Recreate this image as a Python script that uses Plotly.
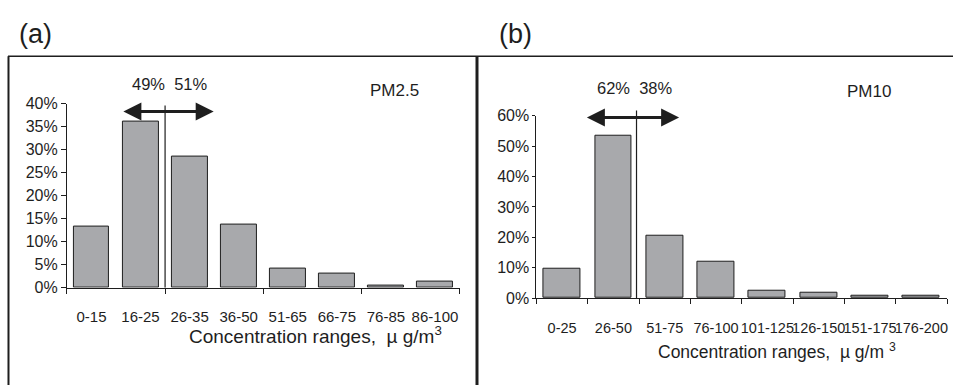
import plotly.graph_objects as go

# ---------------- data ----------------
cats_a = ["0-15", "16-25", "26-35", "36-50", "51-65", "66-75", "76-85", "86-100"]
vals_a = [13.2, 36.0, 28.5, 13.7, 4.15, 3.05, 0.5, 1.33]          # % PM2.5
cats_b = ["0-25", "26-50", "51-75", "76-100", "101-125", "126-150", "151-175", "176-200"]
vals_b = [9.8, 53.3, 20.5, 12.0, 2.4, 1.8, 0.8, 0.8]               # % PM10
split_a = ["49%", "51%"]
split_b = ["62%", "38%"]
yticks_a = [0, 5, 10, 15, 20, 25, 30, 35, 40]
yticks_b = [0, 10, 20, 30, 40, 50, 60]

W, H = 954, 385
FONT = "Arial, Liberation Sans, Helvetica, sans-serif"
INK = "#1e1e1e"
BAR = "#a8a9ac"


def fx(px):
    return px / W


def fy(py):
    return 1 - py / H


idx_a = list(range(len(cats_a)))
idx_b = list(range(len(cats_b)))

fig = go.Figure()
fig.add_trace(go.Bar(x=idx_a, y=[v / 100 for v in vals_a], width=0.73,
                     marker=dict(color=BAR, line=dict(color=INK, width=1)),
                     xaxis="x", yaxis="y", showlegend=False, hoverinfo="skip"))
fig.add_trace(go.Bar(x=idx_b, y=[v / 100 for v in vals_b], width=0.72,
                     marker=dict(color=BAR, line=dict(color=INK, width=1)),
                     xaxis="x2", yaxis="y2", showlegend=False, hoverinfo="skip"))

fig.update_layout(
    width=W, height=H, margin=dict(l=0, r=0, t=0, b=0),
    paper_bgcolor="white", plot_bgcolor="white",
    font=dict(family=FONT, color=INK),
    bargap=0,
    xaxis=dict(domain=[fx(67), fx(460)], range=[-0.5, len(cats_a) - 0.5],
               tickmode="array", tickvals=idx_a, ticktext=cats_a, ticks="", tickangle=0,
               ticklabelstandoff=15, tickfont=dict(family=FONT, size=15, color=INK),
               showline=True, linecolor=INK, linewidth=1, showgrid=False, zeroline=False,
               minor=dict(tickmode="array",
                          tickvals=[i - 0.5 for i in range(0, len(cats_a) + 1, 2)],
                          ticks="outside", ticklen=5, tickcolor=INK, tickwidth=1,
                          showgrid=False),
               anchor="y", fixedrange=True),
    yaxis=dict(domain=[fy(292.7), fy(100)], range=[0, 0.40],
               tickmode="array", tickvals=[t / 100 for t in yticks_a],
               ticktext=[f"{t}%" for t in yticks_a],
               ticks="outside", ticklen=5, tickcolor=INK,
               tickfont=dict(family=FONT, size=16, color=INK),
               showline=True, linecolor=INK, linewidth=1, showgrid=False, zeroline=False,
               anchor="x", fixedrange=True),
    xaxis2=dict(domain=[fx(537), fx(948)], range=[-0.5, len(cats_b) - 0.5],
                tickmode="array", tickvals=idx_b, ticktext=cats_b, ticks="", tickangle=0,
                ticklabelstandoff=17, tickfont=dict(family=FONT, size=14.5, color=INK),
                showline=True, linecolor=INK, linewidth=1, showgrid=False, zeroline=False,
                minor=dict(tickmode="array",
                           tickvals=[i - 0.5 for i in range(0, len(cats_b) + 1)],
                           ticks="outside", ticklen=5, tickcolor=INK, tickwidth=1,
                           showgrid=False),
                anchor="y2", fixedrange=True),
    yaxis2=dict(domain=[fy(303.5), fy(112.7)], range=[0, 0.60],
                tickmode="array", tickvals=[t / 100 for t in yticks_b],
                ticktext=[f"{t}%" for t in yticks_b],
                ticks="outside", ticklen=3, tickcolor=INK,
                tickfont=dict(family=FONT, size=16, color=INK),
                showline=True, linecolor=INK, linewidth=1, showgrid=False, zeroline=False,
                anchor="x2", fixedrange=True),
)

# ---------------- frames ----------------
fig.add_shape(type="line", xref="paper", yref="paper", x0=fx(8), x1=1, y0=fy(50.5), y1=fy(50.5),
              line=dict(color=INK, width=1.5))
fig.add_shape(type="line", xref="paper", yref="paper", x0=fx(8.5), x1=fx(8.5), y0=fy(50.5), y1=-0.05,
              line=dict(color=INK, width=2))
fig.add_shape(type="line", xref="paper", yref="paper", x0=fx(477.5), x1=fx(477.5), y0=fy(50.5), y1=-0.05,
              line=dict(color=INK, width=3))

# ---------------- split lines ----------------
fig.add_shape(type="line", xref="x", yref="y", x0=1.5, x1=1.5, y0=0, y1=0.396,
              line=dict(color=INK, width=1.2))
fig.add_shape(type="line", xref="x2", yref="y2 domain", x0=1.45, x1=1.45, y0=0, y1=0.617 / 0.60,
              line=dict(color=INK, width=1.2))

# double-headed arrows
fig.add_annotation(xref="x", yref="y", axref="x", ayref="y", x=2.49, y=0.383, ax=0.62, ay=0.383,
                   text="", showarrow=True, arrowside="end+start", arrowhead=2, startarrowhead=2,
                   arrowsize=1.2, startarrowsize=1.2, arrowwidth=3, arrowcolor=INK)
fig.add_annotation(xref="x2", yref="y2", axref="x2", ayref="y2", x=2.28, y=0.594, ax=0.454, ay=0.594,
                   text="", showarrow=True, arrowside="end+start", arrowhead=2, startarrowhead=2,
                   arrowsize=1.2, startarrowsize=1.2, arrowwidth=3, arrowcolor=INK)

# ---------------- texts ----------------
def txt(s, x, y, size, xanchor="center"):
    fig.add_annotation(xref="paper", yref="paper", x=fx(x), y=fy(y), text=s, showarrow=False,
                       xanchor=xanchor, yanchor="middle", font=dict(family=FONT, size=size, color=INK))


txt("(a)", 17, 27, 27, "left")
txt("(b)", 498, 27, 27, "left")
txt("PM2.5", 395, 86, 17)
txt("PM10", 870, 87, 17)
txt("\u00a0\u00a0".join(split_a), 170, 79, 16.5)
txt("\u00a0\u00a0".join(split_b), 636, 84, 16.5)
txt("Concentration ranges,\u00a0\u00a0\u00b5\u00a0g/m<sup>3</sup>", 316, 342, 19)
txt("Concentration ranges,\u00a0\u00a0\u00b5\u00a0g/m\u00a0<sup>3</sup>", 778, 359, 17.5)

fig.write_html("out.html")
